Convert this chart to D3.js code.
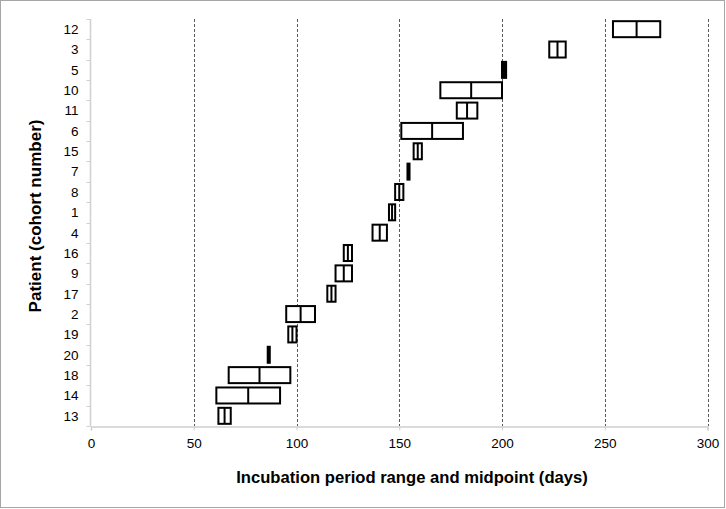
<!DOCTYPE html>
<html>
<head>
<meta charset="utf-8">
<script src="https://cdn.jsdelivr.net/npm/d3@7"></script>
<style>
  html, body { margin: 0; padding: 0; background: #fff; }
  svg { display: block; font-family: "Liberation Sans", Arial, sans-serif; }
</style>
</head>
<body>
<svg id="chart" width="726" height="509"></svg>
<script>
// Patients listed from bottom to top
const patients = ["13","14","18","20","19","2","17","9","16","4","1","8","7","15","6","11","10","5","3","12"];
const minDays  = [62, 61, 67, 86, 96, 95, 115, 119, 123, 137, 145, 148, 154, 157, 151, 178, 170, 200, 223, 254];
const maxDays  = [68, 92, 97, 87, 100, 109, 119, 127, 127, 144, 148, 152, 155, 161, 181, 188, 200, 202, 231, 277];
const midDays  = [65, 76.5, 82, 86.5, 98, 102, 117, 123, 125, 140.5, 146.5, 150, 154.5, 159, 166, 183, 185, 201, 227, 265.5];
const xTicks   = [0, 50, 100, 150, 200, 250, 300];
const xTitle = "Incubation period range and midpoint (days)";
const yTitle = "Patient (cohort number)";

(function () {
const svg = d3.select("#chart");
const W = 726, H = 509;
const mLeft = 91, mRight = 707.5, mTop = 19, mBottom = 426;

// outer frame
svg.append("rect").attr("x", 0.5).attr("y", 0.5).attr("width", W - 2).attr("height", H - 2)
  .attr("fill", "#fff").attr("stroke", "#a6a6a6").attr("stroke-width", 1);

const x = d3.scaleLinear().domain([0, 300]).range([mLeft, mRight]);
const y = d3.scaleBand().domain(patients.slice().reverse()).range([mTop, mBottom]).padding(0);

// dashed gridlines
svg.append("g").selectAll("line").data(xTicks.filter(d => d > 0)).join("line")
  .attr("x1", d => Math.round(x(d)) + 0.5).attr("x2", d => Math.round(x(d)) + 0.5)
  .attr("y1", mTop).attr("y2", mBottom)
  .attr("stroke", "#5a5a5a").attr("stroke-width", 1).attr("stroke-dasharray", "3,2");

// x axis
const xAxis = svg.append("g").attr("transform", `translate(0,${mBottom + 0.5})`)
  .call(d3.axisBottom(x).tickValues(xTicks).tickSize(4).tickPadding(8));
xAxis.select(".domain").attr("stroke", "#d0d0d0").attr("stroke-width", 1.5);
xAxis.selectAll(".tick line").attr("stroke", "#d0d0d0");
xAxis.selectAll("text").attr("font-size", 13.5).attr("fill", "#000")
  .attr("font-family", "Liberation Sans, Arial, sans-serif");

// y axis (ticks at band boundaries)
const yAxisG = svg.append("g").attr("transform", `translate(${mLeft - 0.5},0)`);
yAxisG.append("line").attr("x1", 0).attr("x2", 0).attr("y1", mTop).attr("y2", mBottom)
  .attr("stroke", "#d0d0d0").attr("stroke-width", 1.5);
const bounds = patients.map(p => y(p)).concat([mBottom]);
yAxisG.selectAll("line.tk").data(bounds).join("line").attr("class", "tk")
  .attr("x1", -4).attr("x2", 0)
  .attr("y1", d => Math.round(d) + 0.5).attr("y2", d => Math.round(d) + 0.5)
  .attr("stroke", "#d0d0d0");
yAxisG.selectAll("text").data(patients).join("text")
  .attr("x", -12).attr("y", d => y(d) + y.bandwidth() / 2)
  .attr("dy", "0.36em").attr("text-anchor", "end")
  .attr("font-size", 13.5).attr("fill", "#000").text(d => d);

// boxes
const bh = 16;
const rows = patients.map((p, i) => ({ p, lo: minDays[i], hi: maxDays[i], mid: midDays[i] }));
const g = svg.append("g");
g.selectAll("rect").data(rows).join("rect")
  .attr("x", d => x(d.lo)).attr("width", d => x(d.hi) - x(d.lo))
  .attr("y", d => y(d.p) + y.bandwidth() / 2 - bh / 2).attr("height", bh)
  .attr("fill", d => (d.hi - d.lo) <= 2 ? "#000" : "#fff")
  .attr("stroke", "#000").attr("stroke-width", 2);
g.selectAll("line").data(rows).join("line")
  .attr("x1", d => x(d.mid)).attr("x2", d => x(d.mid))
  .attr("y1", d => y(d.p) + y.bandwidth() / 2 - bh / 2)
  .attr("y2", d => y(d.p) + y.bandwidth() / 2 + bh / 2)
  .attr("stroke", "#000").attr("stroke-width", 2);

// axis titles, sized to fit the reference widths
function fit(sel, target) {
  const len = sel.node().getComputedTextLength();
  if (len > 0) sel.attr("font-size", 15 * target / len);
}
const xt = svg.append("text").attr("x", 412).attr("y", 483).attr("text-anchor", "middle")
  .attr("font-size", 15).attr("font-weight", "bold").attr("fill", "#000").text(xTitle);
fit(xt, 352);
const yt = svg.append("text").attr("transform", "translate(41,216) rotate(-90)").attr("text-anchor", "middle")
  .attr("font-size", 15).attr("font-weight", "bold").attr("fill", "#000").text(yTitle);
fit(yt, 193);
})();
</script>
</body>
</html>
